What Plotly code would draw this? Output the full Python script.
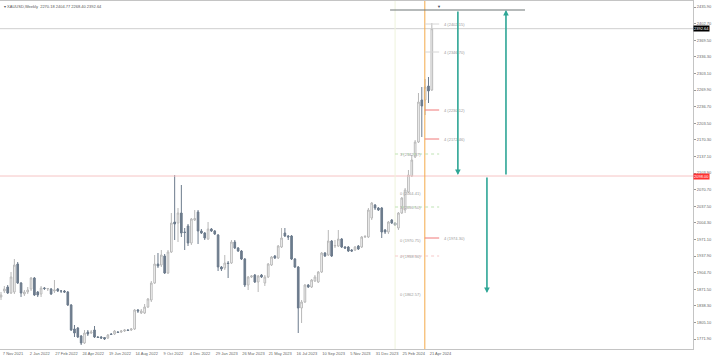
import plotly.graph_objects as go

# ---- data (weekly bars) ----
opens = [1856,1868,1876,1864,1866,1922,1884,1862,1866,1872,1894,1866,1862,1874,1872,1872,1868,1872,1868,1868,
         1866,1840,1792,1794,1778,1764,1786,1784,1790,1776,1776,1775,1774,1782,1782,1786,1786,1788,1790,1790,
         1792,1830,1824,1824,1836,1850,1884,1922,1920,1938,1904,1946,2006,2004,2024,1986,1998,1964,2010,2026,
         1988,1984,1972,1992,1988,1980,1916,1914,1924,1924,1966,1954,1948,1932,1880,1896,1900,1886,1900,1884,
         1896,1920,1938,1934,1956,1984,1978,1978,1932,1916,1834,1846,1880,1876,1888,1886,1906,1944,1940,1968,
         1958,1958,1972,1956,1956,1950,1950,1958,1956,1976,1976,2014,2040,2034,2034,1990,1986,2010,2004,1994,
         2024,2030,2066,2098,2136,2166,2250,2250,2278,2270]
highs = [1866,1878,1880,1906,1932,1926,1886,1870,1876,1896,1896,1868,1878,1876,1874,1874,1890,1874,1870,1870,
         1868,1842,1800,1796,1780,1790,1790,1790,1798,1778,1778,1776,1782,1784,1790,1788,1790,1792,1792,1794,
         1832,1832,1832,1842,1854,1888,1940,1944,1950,1942,1950,2024,2100,2034,2080,1994,2002,2014,2030,2030,
         1992,1986,2006,1994,1990,1982,1918,1940,1928,1970,1970,1956,1950,1934,1898,1900,1902,1900,1902,1900,
         1924,1938,1940,1960,1994,1994,1980,1980,1934,1918,1850,1882,1882,1892,1900,1908,1946,1946,1990,1970,
         1970,1990,1974,1958,1958,1952,1958,1960,1978,1980,2034,2046,2042,2036,2036,1992,2008,2012,2006,2026,
         2056,2074,2110,2140,2170,2264,2276,2292,2296,2404]
lows = [1850,1864,1862,1862,1862,1882,1856,1858,1862,1868,1858,1856,1856,1870,1868,1860,1864,1866,1864,1864,
        1838,1788,1776,1774,1760,1762,1778,1782,1774,1774,1772,1770,1772,1780,1780,1784,1784,1786,1788,1788,
        1790,1824,1822,1822,1834,1846,1882,1914,1916,1902,1902,1944,1970,1966,1976,1950,1958,1960,2008,1962,
        1982,1970,1970,1986,1980,1908,1908,1910,1894,1922,1952,1946,1930,1876,1870,1894,1884,1866,1894,1878,
        1894,1918,1932,1932,1954,1976,1970,1930,1914,1784,1804,1844,1874,1874,1886,1884,1904,1936,1938,1936,
        1954,1956,1954,1952,1946,1946,1948,1950,1954,1974,1974,2010,2030,2028,1974,1982,1982,2002,1998,1990,
        2022,2024,2064,2096,2134,2164,2176,2220,2244,2268]
closes = [1860,1872,1864,1896,1920,1884,1864,1866,1870,1894,1860,1860,1874,1873,1873,1862,1870,1868,1868,1866,
          1840,1790,1784,1776,1764,1784,1782,1786,1776,1775,1774,1772,1780,1781,1788,1785,1788,1790,1789,1792,
          1830,1828,1828,1836,1852,1884,1922,1918,1940,1904,1946,2004,2002,2024,1984,1985,1964,2012,2013,1988,
          1984,1974,1992,1988,1982,1916,1912,1924,1923,1966,1954,1948,1932,1880,1896,1898,1886,1898,1896,1896,
          1922,1936,1934,1958,1974,1978,1976,1932,1916,1834,1846,1880,1876,1890,1896,1906,1944,1938,1968,1938,
          1959,1972,1956,1954,1948,1948,1956,1952,1976,1977,2030,2044,2034,2030,1986,1986,2006,2004,2000,2024,
          2054,2070,2100,2130,2166,2246,2238,2276,2268,2392.64]

bar_index = list(range(len(closes)))

date_ticks = [0, 8, 16, 24, 32, 40, 48, 56, 64, 72, 80, 88, 96, 104, 112, 120, 128]
date_labels = ["7 Nov 2021", "2 Jan 2022", "27 Feb 2022", "24 Apr 2022", "19 Jun 2022", "14 Aug 2022",
               "9 Oct 2022", "4 Dec 2022", "29 Jan 2023", "26 Mar 2023", "21 May 2023", "16 Jul 2023",
               "10 Sep 2023", "5 Nov 2023", "31 Dec 2023", "25 Feb 2024", "21 Apr 2024"]

last_price = 2392.64
alert_level = 2098.00
top_line = 2430.0

fib_right = [(2402, "4 (2402.15)", "#d6d6d6"), (2346, "4 (2346.70)", "#d6d6d6"),
             (2230, "4 (2230.12)", "#f07878"), (2172, "4 (2172.46)", "#f07878"),
             (1974, "4 (1974.30)", "#f07878")]
fib_left = [(2142, "3 (2142.37)", "#bfe3b4"), (2064, "0 (2064.41)", None),
            (2036, "3 (2036.50)", "#bfe3b4"), (1970, "0 (1970.75)", None),
            (1938, "0 (1938.36)", "#f6c9c9"), (1862, "0 (1862.57)", None)]

FONT = "Liberation Sans"

fig = go.Figure()
fig.add_trace(go.Candlestick(
    x=bar_index, open=opens, high=highs, low=lows, close=closes,
    increasing=dict(line=dict(color="#b8b8b8", width=1), fillcolor="#ffffff"),
    decreasing=dict(line=dict(color="#6c7b8c", width=1), fillcolor="#6c7b8c"),
    whiskerwidth=0, showlegend=False, hoverinfo="skip"))

shapes = []
shapes.append(dict(type="line", xref="paper", x0=0, x1=1, yref="y", y0=last_price, y1=last_price,
                   line=dict(color="#cfcfcf", width=1)))
shapes.append(dict(type="line", xref="paper", x0=0, x1=1, yref="y", y0=alert_level, y1=alert_level,
                   line=dict(color="#f6c4c4", width=1)))
shapes.append(dict(type="line", x0=118, x1=118, yref="paper", y0=0, y1=1,
                   line=dict(color="#eef3dc", width=1)))
shapes.append(dict(type="line", x0=126.9, x1=126.9, yref="paper", y0=0, y1=1,
                   line=dict(color="#f3a94a", width=1)))
shapes.append(dict(type="line", x0=116.5, x1=156.9, y0=top_line, y1=top_line,
                   line=dict(color="#6f7676", width=1.2)))
for lvl, txt, col in fib_right:
    shapes.append(dict(type="line", x0=126.9, x1=131.2, y0=lvl, y1=lvl, line=dict(color=col, width=1)))
for lvl, txt, col in fib_left:
    if col:
        shapes.append(dict(type="line", x0=118, x1=131.2, y0=lvl, y1=lvl,
                           line=dict(color=col, width=1, dash="dot")))

annotations = []
for lvl, txt, col in fib_right:
    annotations.append(dict(x=132.0, y=lvl, text=txt, showarrow=False, xanchor="left",
                            font=dict(size=4, color="#9a9a9a", family=FONT)))
for lvl, txt, col in fib_left:
    annotations.append(dict(x=118.9, y=lvl, text=txt, showarrow=False, xanchor="left",
                            font=dict(size=4, color="#9a9a9a", family=FONT)))

arrow_col = "#2ea696"
for (xa, y_tail, y_head) in [(136.8, top_line, alert_level + 2), (151.2, alert_level, top_line),
                             (145.5, alert_level, 1864)]:
    annotations.append(dict(x=xa, y=y_head, ax=xa, ay=y_tail, axref="x", ayref="y", xref="x", yref="y",
                            text="", showarrow=True, arrowhead=2, arrowsize=0.7, arrowwidth=1.6,
                            arrowcolor=arrow_col))

annotations.append(dict(xref="paper", yref="paper", x=0.003, y=0.998, xanchor="left", yanchor="top",
                        text="▾ XAUUSD,Weekly  2270.18 2404.77 2268.40 2392.64", showarrow=False,
                        font=dict(size=4, color="#555555", family=FONT)))
annotations.append(dict(xref="paper", x=1.0, y=last_price, yref="y", xanchor="left", text="2392.64",
                        showarrow=False, bgcolor="#000000", borderpad=0,
                        font=dict(size=4, color="#ffffff", family=FONT)))
annotations.append(dict(xref="paper", x=1.0, y=alert_level, yref="y", xanchor="left", text="2098.00",
                        showarrow=False, bgcolor="#ff3030", borderpad=0,
                        font=dict(size=4, color="#ffffff", family=FONT)))
annotations.append(dict(x=131.2, y=2446, text="▼", showarrow=False, yanchor="top",
                        font=dict(size=4, color="#3c4a5a")))

fig.update_layout(
    width=712, height=358,
    margin=dict(l=0, r=19, t=1, b=9),
    paper_bgcolor="white", plot_bgcolor="white",
    shapes=shapes, annotations=annotations,
    xaxis=dict(range=[-0.3, 207.2], showgrid=False, zeroline=False, rangeslider=dict(visible=False),
               tickvals=[t + 3.6 for t in date_ticks], ticktext=date_labels, ticks="", tickangle=0,
               automargin=False,
               tickfont=dict(size=4, color="#666666", family=FONT),
               showline=True, linecolor="#c4c4c4", mirror=True),
    yaxis=dict(side="right", range=[1752, 2448], tick0=1771.9, dtick=33.2, tickformat=".2f",
               showgrid=False, zeroline=False, ticks="outside", ticklen=2, tickcolor="#999999",
               automargin=False,
               tickfont=dict(size=4, color="#666666", family=FONT),
               showline=True, linecolor="#c4c4c4", mirror=True),
)

fig.write_html("out.html", config={"displayModeBar": False, "staticPlot": True},
               post_script="document.body.style.margin='0';document.body.style.overflow='hidden';")
